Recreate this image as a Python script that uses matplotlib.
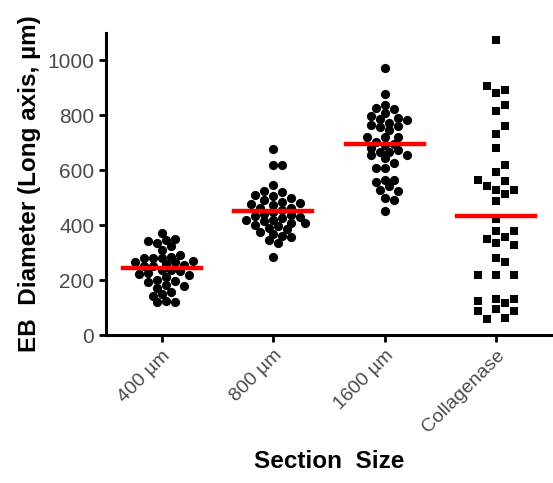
import matplotlib.pyplot as plt
import numpy as np

plt.rcParams['font.family'] = ['Liberation Sans', 'DejaVu Sans']

# values (EB diameter, um)
groups = ['400 µm', '800 µm', '1600 µm', 'Collagenase']

d400 = [372, 347, 335, 343, 351, 323, 311, 292, 286, 280, 282, 280, 270, 268, 265,
        256, 258, 250, 253, 237, 234, 237, 222, 225, 213, 219, 193, 201, 197, 179,
        183, 171, 158, 149, 142, 119, 122, 124]
d800 = [678, 621, 619, 545, 524, 521, 509, 505, 493, 499, 483, 481, 477, 475, 463,
        463, 436, 433, 447, 442, 430, 420, 420, 414, 408, 398, 409, 386, 390, 362,
        369, 347, 359, 335, 286, 455, 428, 402, 375]
d1600 = [971, 877, 838, 826, 822, 810, 798, 792, 782, 788, 773, 764, 759, 762, 745,
         721, 721, 721, 703, 697, 692, 673, 668, 668, 682, 655, 655, 627, 643, 609,
         609, 558, 566, 566, 542, 530, 526, 499, 491, 453]
dcoll = [1073, 905, 880, 893, 838, 815, 761, 733, 680, 621, 592, 560, 565, 530, 530,
         544, 514, 487, 423, 380, 380, 350, 357, 335, 328, 280, 266, 219, 219, 219,
         125, 116, 132, 132, 89, 94, 89, 58, 63]
means = [243, 451, 694, 435]

data = [d400, d800, d1600, dcoll]
markers = ['o', 'o', 'o', 's']

fig = plt.figure(figsize=(5.53, 4.83), dpi=100)
ax = fig.add_axes([0.192, 0.306, 0.806, 0.626])

ylo, yhi = 0, 1100
ax.set_xlim(-0.5, 3.5)
ax.set_ylim(ylo, yhi)

# simple beeswarm so points barely overlap (in pixel space)
ax_w = 0.806 * 553
ax_h = 0.626 * 483
px_x = ax_w / 4.0
px_y = ax_h / (yhi - ylo)
diam = 9.0
step = diam / px_x

for i, vals in enumerate(data):
    square = markers[i] == 's'
    gap = diam * (1.05 if square else 0.8)
    inc = 1 if square else 0.5
    placed = []
    for v in sorted(vals, key=lambda t: abs(t - means[i])):
        k = 0
        while True:
            cands = [0.0] if k == 0 else [k * step, -k * step]
            ok = None
            for c in cands:
                if all(((c - px) * px_x) ** 2 + ((v - py) * px_y) ** 2 >= gap ** 2
                       for px, py in placed):
                    ok = c
                    break
            if ok is not None:
                break
            k += inc
        placed.append((ok, v))
    xs = [i + p[0] for p in placed]
    ys = [p[1] for p in placed]
    ms = 34 if square else 44
    ax.scatter(xs, ys, s=ms, marker=markers[i], color='black', zorder=3, linewidths=0)
    ax.plot([i - 0.35, i + 0.35], [means[i], means[i]], color='#ff0000', lw=3.2, zorder=4)

ax.spines['top'].set_visible(False)
ax.spines['right'].set_visible(False)
ax.spines['left'].set_linewidth(2.2)
ax.spines['bottom'].set_linewidth(2.2)
ax.tick_params(width=2, length=5, colors='black', labelcolor='#4a4a4a', labelsize=15)

ax.set_yticks([0, 200, 400, 600, 800, 1000])
ax.set_xticks(range(4))
ax.set_xticklabels(groups, rotation=45, ha='right', rotation_mode='anchor', fontsize=14)

ax.set_ylabel('EB  Diameter (Long axis, µm)', fontsize=17.5, fontweight='bold', labelpad=5)
ax.set_xlabel('Section  Size', fontsize=17.5, fontweight='bold', labelpad=10)

plt.savefig('out.png', dpi=100)
